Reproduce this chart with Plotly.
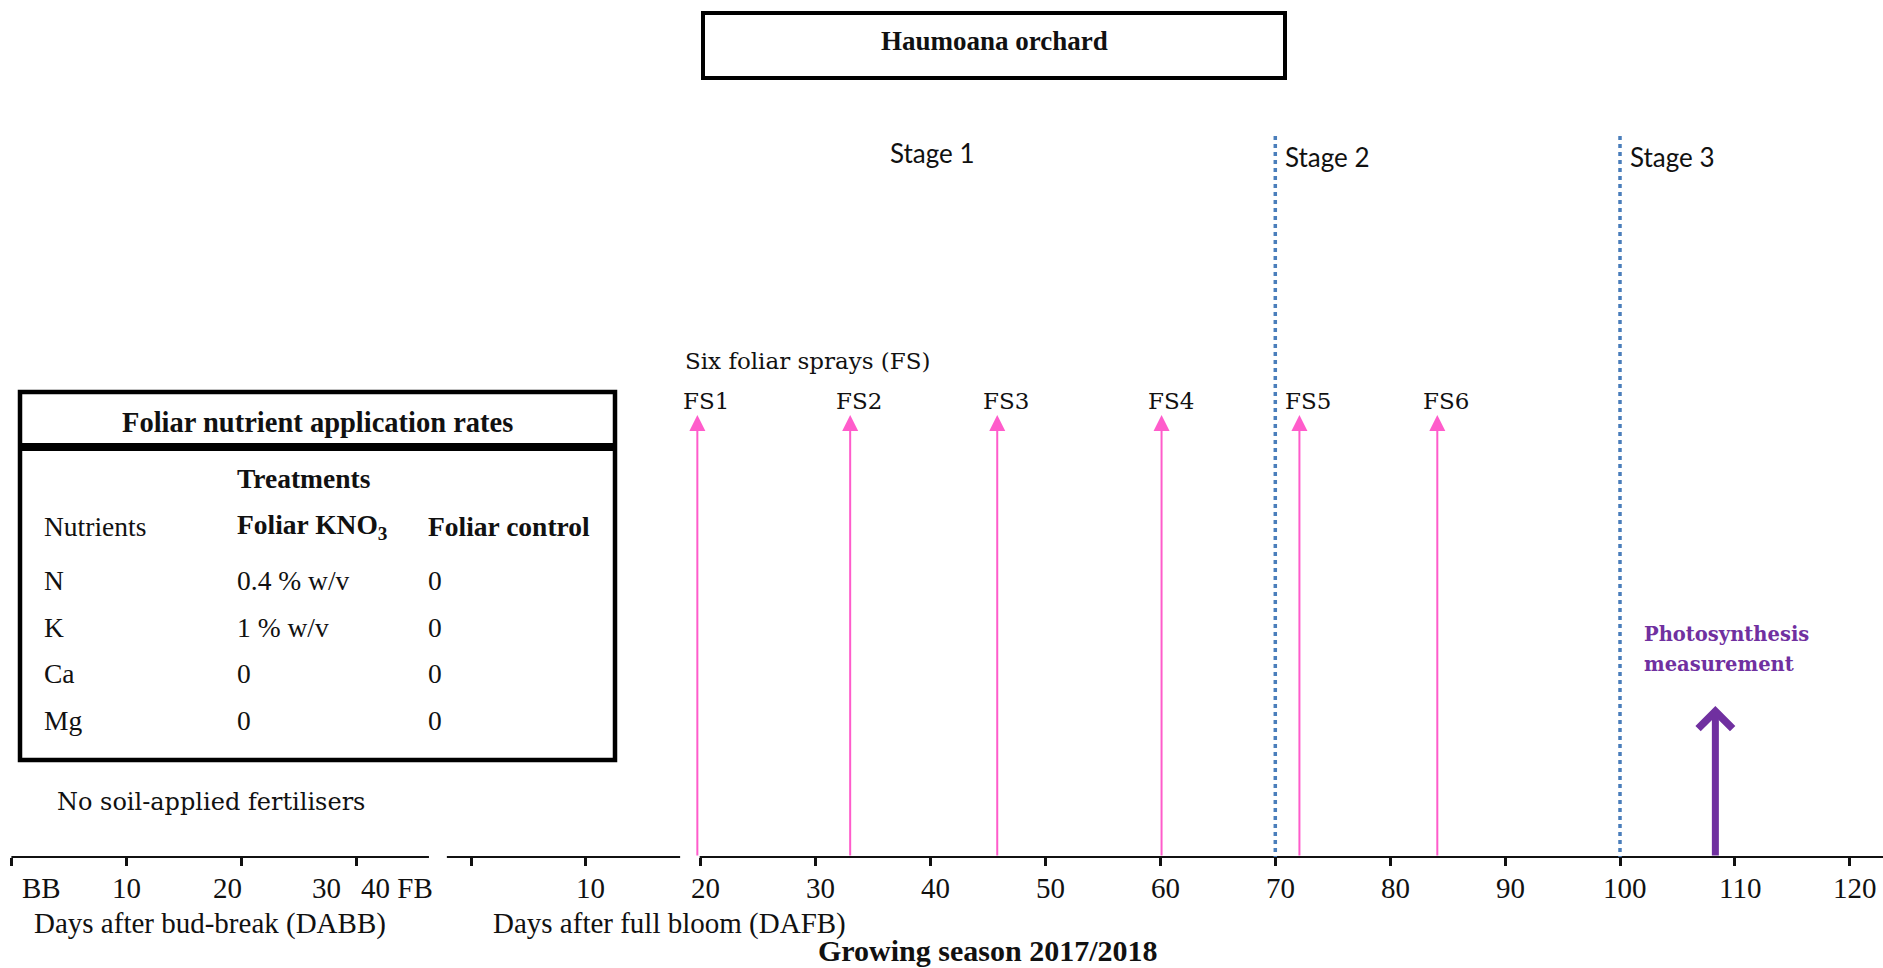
import plotly.graph_objects as go

# ---------------- data ----------------
spray_names = ["FS1", "FS2", "FS3", "FS4", "FS5", "FS6"]
spray_dafb = [19.7, 33.0, 45.8, 60.1, 72.1, 84.1]          # days after full bloom
stage_names = ["Stage 1", "Stage 2", "Stage 3"]
stage_boundaries_dafb = [70, 100]                          # start of Stage 2 and Stage 3
photosynthesis_dafb = 108.3
full_bloom_dabb = 40                                       # full bloom in days after bud-break
dabb_tick_days = [0, 10, 20, 30]
dabb_tick_labels = ["BB", "10", "20", "30"]
fb_label = "40 FB"
dafb_tick_days = [0, 10, 20, 30, 40, 50, 60, 70, 80, 90, 100, 110, 120]
dafb_tick_labels = ["", "10", "20", "30", "40", "50", "60", "70", "80", "90", "100", "110", "120"]
nutrients = ["N", "K", "Ca", "Mg"]
kno3_rates = ["0.4 % w/v", "1 % w/v", "0", "0"]
control_rates = ["0", "0", "0", "0"]

# ---------------- layout constants ----------------
W, H = 1883, 968
X0_PIX = 471.0          # pixel position of DAFB 0
PX_PER_DAY = 11.49
AXIS_Y = 857
SERIF = "Liberation Serif"
SLAB = "DejaVu Serif"
SANS = "Lato"
INK = "#111111"
PINK = "#FF5CCB"
BLUE = "#4A7EBB"
PURPLE = "#7030A0"


def px(x):
    return x / W


def dabb_to_dafb(b):
    return b - full_bloom_dabb


fig = go.Figure()
annotations = []
shapes = []

# ---- axis line segments (in day units) ----
axis_segments = [(dabb_to_dafb(0), -3.66), (-2.1, 18.2), (19.9, 123.5)]
for a, b in axis_segments:
    shapes.append(dict(type="line", xref="x", yref="y", x0=a, x1=b, y0=AXIS_Y, y1=AXIS_Y,
                       line=dict(color=INK, width=2)))

# ---- tick labels ----
TICK_FONT = dict(family=SERIF, size=29, color=INK)
dabb_shift = [30, 0, -14, -30]
for d, lab, s in zip(dabb_tick_days, dabb_tick_labels, dabb_shift):
    annotations.append(dict(x=dabb_to_dafb(d), y=888, xref="x", yref="y", text=lab,
                            showarrow=False, xshift=s, xanchor="center", yanchor="middle",
                            font=TICK_FONT))
annotations.append(dict(x=dabb_to_dafb(full_bloom_dabb), y=888, xref="x", yref="y", text=fb_label,
                        showarrow=False, xshift=-74, xanchor="center", yanchor="middle",
                        font=TICK_FONT))
for d, lab in zip(dafb_tick_days, dafb_tick_labels):
    if lab:
        annotations.append(dict(x=d, y=888, xref="x", yref="y", text=lab, showarrow=False,
                                xshift=5, xanchor="center", yanchor="middle", font=TICK_FONT))

annotations += [
    dict(x=px(210), y=923, xref="paper", yref="y", text="Days after bud-break (DABB)",
         showarrow=False, xanchor="center", yanchor="middle", font=dict(family=SERIF, size=29, color=INK)),
    dict(x=px(669), y=923, xref="paper", yref="y", text="Days after full bloom (DAFB)",
         showarrow=False, xanchor="center", yanchor="middle", font=dict(family=SERIF, size=29, color=INK)),
    dict(x=px(988), y=950, xref="paper", yref="y", text="<b>Growing season 2017/2018</b>",
         showarrow=False, xanchor="center", yanchor="middle", font=dict(family=SERIF, size=30, color=INK)),
]

# ---- title box ----
shapes.append(dict(type="rect", xref="paper", yref="y", x0=px(703), x1=px(1285), y0=13, y1=78,
                   line=dict(color="black", width=4), fillcolor="white", layer="below"))
annotations.append(dict(x=px(994), y=41, xref="paper", yref="y", text="<b>Haumoana orchard</b>",
                        showarrow=False, xanchor="center", yanchor="middle",
                        font=dict(family=SERIF, size=27, color=INK)))

# ---- stages ----
annotations.append(dict(x=px(932), y=153, xref="paper", yref="y", text=stage_names[0],
                        showarrow=False, xanchor="center", yanchor="middle",
                        font=dict(family=SANS, size=26, color=INK)))
for name, d in zip(stage_names[1:], stage_boundaries_dafb):
    shapes.append(dict(type="line", xref="x", yref="y", x0=d, x1=d, y0=136, y1=AXIS_Y,
                       line=dict(color=BLUE, width=3.5, dash="4px,4px")))
    annotations.append(dict(x=d, y=157, xref="x", yref="y", text=name, showarrow=False,
                            xanchor="left", xshift=8, yanchor="middle",
                            font=dict(family=SANS, size=26, color=INK)))

# ---- foliar sprays ----
annotations.append(dict(x=px(683), y=361, xref="paper", yref="y", text="Six foliar sprays (FS)",
                        showarrow=False, xanchor="left", yanchor="middle",
                        font=dict(family=SLAB, size=23, color=INK)))
for name, d in zip(spray_names, spray_dafb):
    annotations.append(dict(x=d, y=415, ax=d, ay=AXIS_Y, xref="x", yref="y", axref="x", ayref="y",
                            text="", showarrow=True, arrowhead=2, arrowsize=1.6, arrowwidth=2,
                            arrowcolor=PINK))
    annotations.append(dict(x=d, y=401, xref="x", yref="y", text=name, showarrow=False,
                            xanchor="center", xshift=9, yanchor="middle",
                            font=dict(family=SLAB, size=23, color=INK)))

# ---- photosynthesis ----
annotations.append(dict(x=photosynthesis_dafb, y=706, ax=photosynthesis_dafb, ay=AXIS_Y,
                        xref="x", yref="y", axref="x", ayref="y", text="", showarrow=True,
                        arrowhead=4, arrowsize=0.95, arrowwidth=7, arrowcolor=PURPLE))
for txt, yy in (("Photosynthesis", 634), ("measurement", 664)):
    annotations.append(dict(x=px(1642), y=yy, xref="paper", yref="y", text=txt, showarrow=False,
                            xanchor="left", yanchor="middle",
                            font=dict(family=SLAB, size=19.5, color=PURPLE, weight="bold")))

# ---- nutrient table ----
shapes.append(dict(type="rect", xref="paper", yref="y", x0=px(20), x1=px(615), y0=392, y1=760,
                   line=dict(color="black", width=4.5), fillcolor="rgba(0,0,0,0)"))
shapes.append(dict(type="line", xref="paper", yref="y", x0=px(20), x1=px(615), y0=447, y1=447,
                   line=dict(color="black", width=8)))
annotations.append(dict(x=px(317), y=422, xref="paper", yref="y",
                        text="<b>Foliar nutrient application rates</b>", showarrow=False,
                        xanchor="center", yanchor="middle", font=dict(family=SERIF, size=28.5, color=INK)))
annotations.append(dict(x=px(235), y=478, xref="paper", yref="y", text="<b>Treatments</b>",
                        showarrow=False, xanchor="left", yanchor="middle",
                        font=dict(family=SERIF, size=27.5, color=INK)))
col_x = [42, 235, 426]
header = ["Nutrients", "<b>Foliar KNO<sub>3</sub></b>", "<b>Foliar control</b>"]
for cx, t in zip(col_x, header):
    annotations.append(dict(x=px(cx), y=526, xref="paper", yref="y", text=t, showarrow=False,
                            xanchor="left", yanchor="middle", font=dict(family=SERIF, size=27.5, color=INK)))
row_y = [580, 627, 673, 720]
for ry, n, k, c in zip(row_y, nutrients, kno3_rates, control_rates):
    for cx, t in zip(col_x, (n, k, c)):
        annotations.append(dict(x=px(cx), y=ry, xref="paper", yref="y", text=t, showarrow=False,
                                xanchor="left", yanchor="middle",
                                font=dict(family=SERIF, size=27.5, color=INK)))

annotations.append(dict(x=px(55), y=802, xref="paper", yref="y", text="No soil-applied fertilisers",
                        showarrow=False, xanchor="left", yanchor="middle",
                        font=dict(family=SLAB, size=24, color=INK)))

all_tick_vals = [dabb_to_dafb(d) for d in dabb_tick_days] + dafb_tick_days

fig.update_layout(
    width=W, height=H,
    margin=dict(l=0, r=0, t=0, b=0),
    paper_bgcolor="white", plot_bgcolor="white",
    showlegend=False,
    xaxis=dict(range=[-X0_PIX / PX_PER_DAY, (W - X0_PIX) / PX_PER_DAY], domain=[0, 1],
               anchor="free", position=1 - AXIS_Y / H, showline=False, showgrid=False,
               zeroline=False, ticks="outside", ticklen=8, tickwidth=2.5, tickcolor=INK,
               tickvals=all_tick_vals, showticklabels=False, fixedrange=True),
    yaxis=dict(range=[H, 0], domain=[0, 1], visible=False, showgrid=False, zeroline=False,
               fixedrange=True),
    shapes=shapes,
    annotations=annotations,
)

fig.write_html(
    "out.html",
    config={"displayModeBar": False},
    post_script="document.body.style.margin='0';document.body.style.overflow='hidden';",
)
